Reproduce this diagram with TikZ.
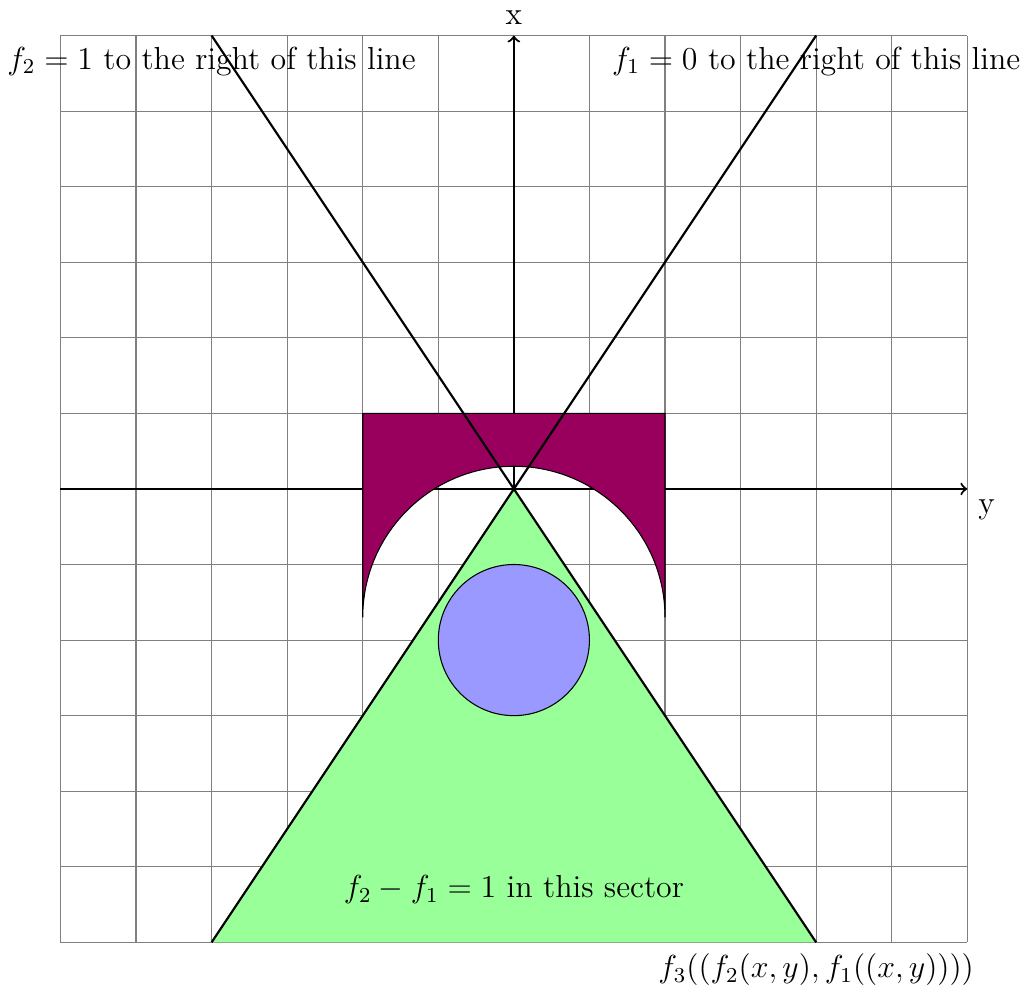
\documentclass[12pt,tikz,border=0pt]{standalone}
\usepackage{amsmath,amssymb}
\usepackage{tikz}
\usetikzlibrary{positioning, calc}
\definecolor{archpurple}{RGB}{153,0,94}

\begin{document}
\begin{tikzpicture}[scale=1.0]
  \useasboundingbox (-6.8,-6.64) rectangle (6.79,6.47);
  \draw[step=1, gray, thin] (-6,-6) grid (6,6);
  % end points
  \coordinate (O) at (0,0);
  \coordinate (yleft) at (-6,0);
  \coordinate (yright) at (6,0);
  \coordinate (xtop) at (0,6);
  \coordinate (topL) at (-4,6);
  \coordinate (topR) at (4,6);
  \coordinate (botL) at (-4,-6);
  \coordinate (botR) at (4,-6);
  % axes
  \draw[->, thick] (yleft) -- (yright);
  \draw[->, thick] (O) -- (xtop);
  \node[above] (xlab) at (xtop) {x};
  \node[below right] (ylab) at (yright) {y};
  % arch
  \filldraw[fill=archpurple, draw=black] (-2,1) -- (2,1) -- (2,-1.7)
    arc[start angle=0, end angle=180, radius=2] -- cycle;
  % sector
  \fill[green!40] (O) -- (botR) -- (botL) -- cycle;
  \filldraw[fill=blue!40, draw=black] (0,-2) circle (1);
  % lines through the origin
  \draw[thick] (topL) -- (botR);
  \draw[thick] (botL) -- (topR);
  \node[below] (f2lab) at (topL) {$f_2 = 1$ to the right of this line};
  \node[below] (f1lab) at (topR) {$f_1 = 0$ to the right of this line};
  \node (sectlab) at (0,-5.3) {$f_2 - f_1 = 1$ in this sector};
  \node[below] (f3lab) at (botR) {$f_3((f_2(x,y), f_1((x,y))))$};
\end{tikzpicture}
\end{document}
